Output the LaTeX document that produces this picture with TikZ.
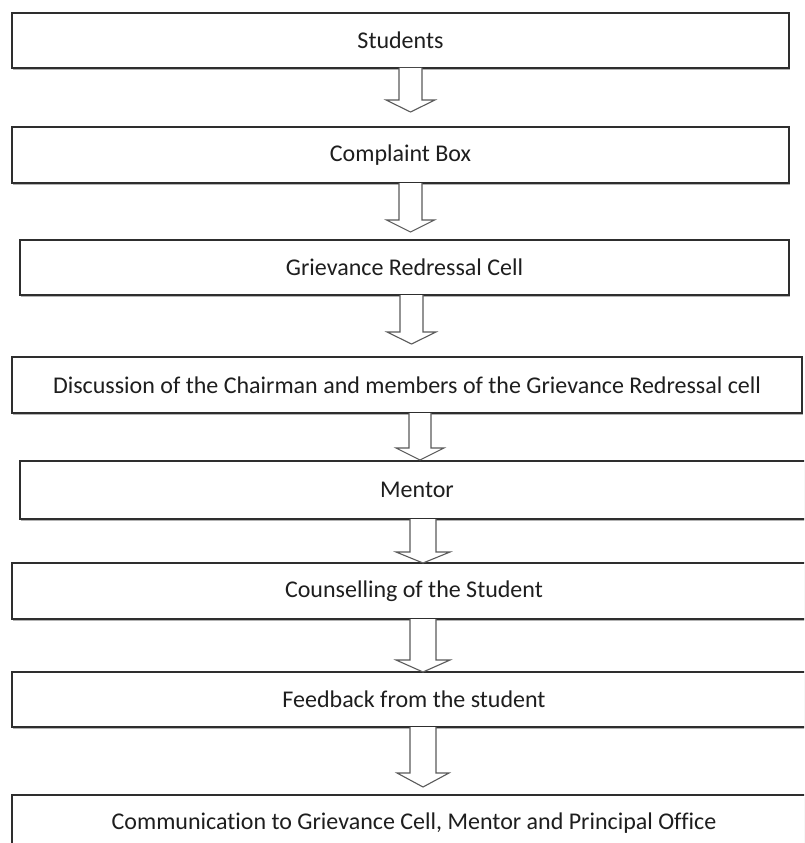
\documentclass[tikz,border=0pt]{standalone}
\usepackage{fontspec}
\setmainfont[Ligatures=NoCommon]{Carlito}
\usetikzlibrary{shadows}
\definecolor{boxline}{HTML}{2E2E2E}
\definecolor{arrline}{HTML}{5A5A5A}
\definecolor{txt}{HTML}{1E1E1E}
\tikzset{
  flowbox/.style={draw=boxline, line width=1.4pt, fill=white, rectangle, outer sep=0pt, inner sep=0pt,
    text=txt, font=\fontsize{24}{28}\selectfont,
    drop shadow={shadow xshift=0.8pt, shadow yshift=-1.6pt, fill=black!30, opacity=1}},
  arrowline/.style={draw=arrline, line width=1.1pt, fill=white, line join=miter}
}
\newcommand{\blkarrow}[6]{% #1 from node, #2 cx, #3 shaft hw, #4 head hw, #5 base y, #6 tip y
  \draw[arrowline] (#2-#3,0 |- #1.south) -- (#2-#3,#5) -- (#2-#4,#5) -- (#2,#6) -- (#2+#4,#5) -- (#2+#3,#5) -- (#2+#3,0 |- #1.south);}
\begin{document}
\begin{tikzpicture}[x=1pt,y=-1pt]
\useasboundingbox (0,0) rectangle (804,843);
\fill[white] (0,0) rectangle (804,843);
\clip (0,0) rectangle (804,843);

\node[flowbox, minimum width=777pt, minimum height=55pt] (b1) at (400.5,40.5) {Students};
\node[flowbox, minimum width=777pt, minimum height=56pt] (b2) at (400.5,155) {Complaint Box};
\node[flowbox, minimum width=769pt, minimum height=55pt] (b3) at (404.5,267.5) {Grievance Redressal Cell};
\node[flowbox, minimum width=790pt, minimum height=56pt] (b4) at (407,385) {Discussion of the Chairman and members of the Grievance Redressal cell};
\node[flowbox, minimum width=794pt, minimum height=58pt] (b5) at (417,490) {Mentor};
\node[flowbox, minimum width=804pt, minimum height=56pt] (b6) at (414,591) {Counselling of the Student};
\node[flowbox, minimum width=804pt, minimum height=55pt] (b7) at (414,699.5) {Feedback from the student};
\node[flowbox, minimum width=804pt, minimum height=56pt] (b8) at (414,823) {Communication to Grievance Cell, Mentor and Principal Office};

\blkarrow{b1}{410.5}{11.5}{24.5}{100}{112}
\blkarrow{b2}{410.5}{11.5}{24}{220}{232}
\blkarrow{b3}{411.5}{11.5}{24.5}{332}{344}
\blkarrow{b4}{420}{11}{24}{448}{460}
\blkarrow{b5}{423}{13}{27}{552}{563}
\blkarrow{b6}{423}{13}{27}{660}{672}
\blkarrow{b7}{423}{13}{26}{773}{787}
\end{tikzpicture}
\end{document}
